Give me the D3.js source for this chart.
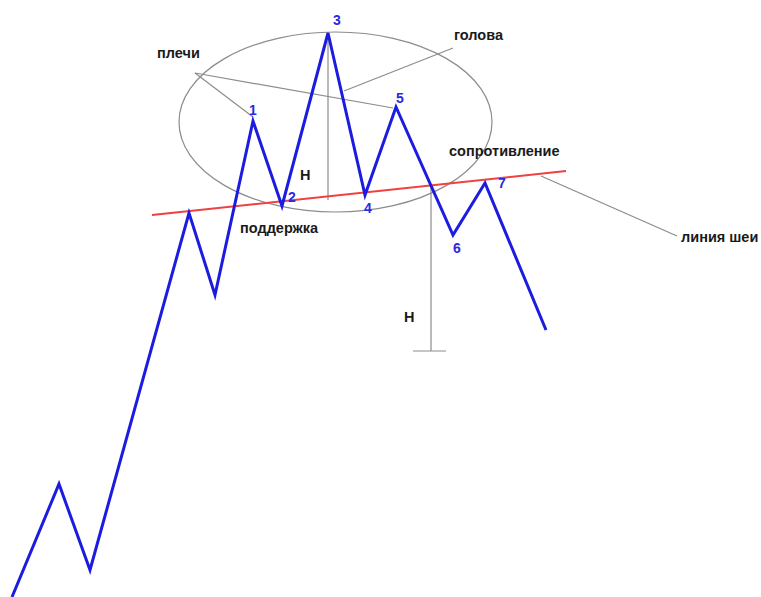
<!DOCTYPE html>
<html>
<head>
<meta charset="utf-8">
<script src="https://cdn.jsdelivr.net/npm/d3@7"></script>
<style>
    body { margin: 0; background: #fff; }
    text { font-family: "Liberation Sans", Arial, sans-serif; }
</style>
</head>
<body>
<div id="chart"></div>
<script>
// price path (time, price) – price measured up from the bottom of the picture
const pathTime  = [12, 59, 90, 189, 215, 253, 282, 328, 365, 396, 453, 485, 546];
const pathPrice = [0, 113, 27, 384, 302, 476, 391, 564, 402, 490, 362, 414, 267];

// point numbers 1..7
const pointLabels = ['1', '2', '3', '4', '5', '6', '7'];
const pointLabelPos = [[253, 482], [292, 395], [337, 572], [368, 384], [400, 494], [457, 344], [502, 409]];

// neckline (support / resistance)
const neckTime  = [152, 566];
const neckPrice = [382, 426];

// head area ellipse: centre and radii
const headEllipse = [335.5, 475, 156.5, 90];

// gray pointer lines [t1, p1, t2, p2]
const pointers = [
    [195, 524, 253, 480],
    [195, 524, 393, 489],
    [453, 549, 344, 506],
    [541, 421, 677, 361]
];

// height H: from head down to neckline, then projected below the break
const heightLines = [
    [328, 564, 328, 397],
    [431, 410, 431, 246],
    [413, 246, 446, 246]
];

const labels     = ['плечи', 'голова', 'сопротивление', 'поддержка', 'линия шеи', 'H', 'H'];
const labelTime  = [157, 454, 449, 240, 681, 300, 404];
const labelPrice = [539, 557, 441, 364, 355, 417, 275];

let width = 761, height = 597;

let svg = d3.select('#chart')
    .append('svg')
    .attr('width', width)
    .attr('height', height);

let x = d3.scaleLinear().domain([0, 761]).range([0, width]);
let y = d3.scaleLinear().domain([0, 597]).range([height, 0]);

// head ellipse
svg.append('ellipse')
    .attr('cx', x(headEllipse[0]))
    .attr('cy', y(headEllipse[1]))
    .attr('rx', x(headEllipse[2]) - x(0))
    .attr('ry', y(0) - y(headEllipse[3]))
    .style('fill', 'none')
    .style('stroke', '#8c8c8c')
    .style('stroke-width', 1.2);

// pointer lines
svg.append('g').selectAll('line')
    .data(pointers.concat(heightLines))
    .enter()
    .append('line')
    .attr('x1', d => x(d[0]))
    .attr('y1', d => y(d[1]))
    .attr('x2', d => x(d[2]))
    .attr('y2', d => y(d[3]))
    .style('stroke', '#8c8c8c')
    .style('stroke-width', 1.2);

// neckline
svg.append('line')
    .attr('x1', x(neckTime[0]))
    .attr('y1', y(neckPrice[0]))
    .attr('x2', x(neckTime[1]))
    .attr('y2', y(neckPrice[1]))
    .style('stroke', '#f04040')
    .style('stroke-width', 2);

// price line
let line = d3.line()
    .x((d, i) => x(pathTime[i]))
    .y(d => y(d));

svg.append('path')
    .datum(pathPrice)
    .attr('d', line)
    .style('fill', 'none')
    .style('stroke', '#1c1ce0')
    .style('stroke-width', 3)
    .style('stroke-linejoin', 'miter');

// point numbers
svg.append('g').selectAll('text')
    .data(pointLabels)
    .enter()
    .append('text')
    .attr('x', (d, i) => x(pointLabelPos[i][0]))
    .attr('y', (d, i) => y(pointLabelPos[i][1]))
    .attr('text-anchor', 'middle')
    .text(d => d)
    .style('font-size', '14px')
    .style('font-weight', 'bold')
    .style('fill', '#2a2ae0');

// text labels
svg.append('g').selectAll('text')
    .data(labels)
    .enter()
    .append('text')
    .attr('x', (d, i) => x(labelTime[i]))
    .attr('y', (d, i) => y(labelPrice[i]))
    .text(d => d)
    .style('font-size', '14.5px')
    .style('font-weight', 'bold')
    .style('fill', '#1a1a1a');
</script>
</body>
</html>
